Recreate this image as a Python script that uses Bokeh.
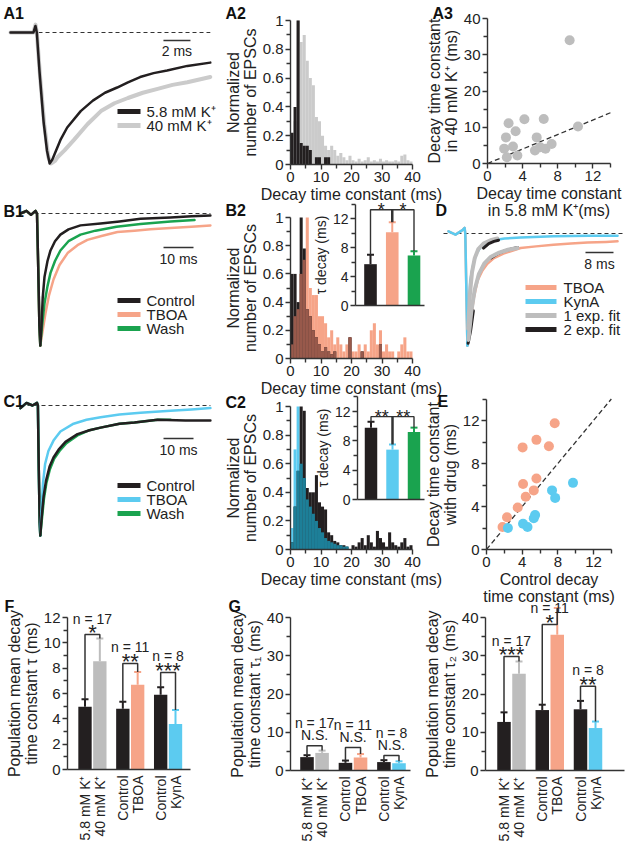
import math
from bokeh.plotting import figure
from bokeh.models import Range1d, FixedTicker, LinearAxis, Label
from bokeh.core.properties import value
from bokeh.embed import file_html
from bokeh.resources import INLINE

FONT = "Liberation Sans"
BLACK = "#231f20"
GRAY = "#cbcbcb"
BARGRAY = "#bdbdbd"
FITGRAY = "#bdbdbd"
SALMON = "#f6a488"
CYAN = "#5ccbf0"
GREEN = "#1aa34f"
BROWN = "#98594b"
TEAL = "#1d7f98"
AXC = "#333333"
TXC = "#222222"

# ---------------- data ----------------
# A1 traces (time ms, normalized amplitude)
a1_t_5p8 = [0, 1.7, 1.85, 1.95, 2.15, 2.45, 2.7, 2.9, 3.1, 3.7, 4.2, 5.2, 6.1, 7.0, 7.9, 8.7, 9.6, 10.6, 11.6, 13.1, 14.8]
a1_v_5p8 = [0, 0.0, 0.05, 0.0, -0.3, -0.68, -0.9, -1.0, -0.97, -0.82, -0.725, -0.6, -0.52, -0.46, -0.42, -0.38, -0.34, -0.31, -0.29, -0.255, -0.23]
a1_t_40 = [0, 1.7, 1.85, 1.95, 2.2, 2.5, 2.8, 3.0, 3.3, 3.5, 4.0, 4.7, 5.7, 6.7, 7.7, 8.7, 9.8, 10.9, 12.0, 13.1, 14.8]
a1_v_40 = [0, 0.0, 0.06, 0.0, -0.35, -0.7, -0.95, -1.0, -0.98, -0.95, -0.9, -0.82, -0.7, -0.6, -0.54, -0.5, -0.46, -0.43, -0.4, -0.38, -0.34]

# A2 histograms (1 ms bins, 0-40 ms)
hist_bins = list(range(40))
a2_5p8 = [0.22, 0.4, 1.0, 0.15, 0.13, 0.13, 0.1, 0.0, 0.05, 0.05, 0.0, 0.05, 0.05, 0, 0, 0, 0, 0, 0, 0,
          0, 0, 0, 0, 0, 0, 0, 0, 0, 0, 0, 0, 0, 0, 0, 0, 0, 0, 0, 0]
a2_40 = [0.05, 0.3, 1.0, 0.85, 0.9, 0.72, 0.6, 0.55, 0.33, 0.3, 0.2, 0.13, 0.1, 0.13, 0.1, 0.06, 0.08, 0.05, 0.03, 0.06,
         0.03, 0.02, 0.04, 0.02, 0.03, 0.05, 0.02, 0.03, 0.02, 0.04, 0.02, 0.03, 0.02, 0.02, 0.03, 0.02, 0.06, 0.07, 0.03, 0.02]

# A3 scatter
a3_5p8 = [9.35, 10.3, 2.4, 2.1, 1.9, 3.2, 4.2, 2.9, 2.2, 3.4, 6.4, 5.6, 5.4, 6.0, 6.6, 7.3]
a3_40 = [34.0, 10.2, 11.1, 7.2, 4.1, 8.9, 12.2, 4.7, 1.7, 2.2, 12.3, 7.2, 3.6, 4.5, 4.1, 5.4]

# B1 traces
b1_t_pre = [0, 2, 3.5, 5.0, 5.5, 5.9, 6.3, 6.6]
b1_v_pre = [0, 0.02, -0.01, 0.02, 0.0, -0.4, -0.85, -1.0]
b1_t_ctrl = [6.6, 7.0, 7.4, 8.0, 9.0, 10.0, 11.5, 13.3, 16, 20, 26.7, 33, 40, 50, 57, 63.3]
b1_v_ctrl = [-1.0, -0.85, -0.64, -0.48, -0.36, -0.28, -0.21, -0.16, -0.12, -0.09, -0.075, -0.06, -0.04, -0.03, -0.02, -0.015]
b1_t_tboa = [6.6, 7.3, 8.3, 9.5, 11, 13, 15.7, 19, 22.3, 27, 32.3, 38, 43.3, 50, 57, 63.3]
b1_v_tboa = [-1.0, -0.9, -0.76, -0.62, -0.5, -0.39, -0.3, -0.24, -0.2, -0.17, -0.14, -0.13, -0.12, -0.11, -0.1, -0.09]
b1_t_wash = [6.6, 7.2, 8.0, 9.0, 10, 11.5, 13.3, 16, 20, 25, 32, 40, 50, 58]
b1_v_wash = [-1.0, -0.85, -0.68, -0.55, -0.45, -0.36, -0.28, -0.21, -0.16, -0.13, -0.1, -0.08, -0.06, -0.05]

# B2 histograms + inset
b2_ctrl = [0.6, 0.6, 0.4, 1.0, 0.78, 0.35, 0.3, 0.2, 0.15, 0.1, 0.05, 0.08, 0.05, 0.03, 0.05, 0, 0, 0, 0, 0.15,
           0, 0, 0, 0.05, 0, 0, 0, 0, 0, 0.1, 0, 0, 0, 0, 0, 0, 0, 0, 0, 0]
b2_tboa = [0.1, 0.3, 0.35, 0.6, 0.7, 1.0, 0.5, 0.45, 0.45, 0.3, 0.3, 0.25, 0.15, 0.2, 0.1, 0.15, 0.1, 0.05, 0.1, 0.15,
           0.05, 0.05, 0.1, 0.05, 0.1, 0.05, 0.2, 0.25, 0.1, 0.2, 0.05, 0.1, 0.05, 0.05, 0, 0.05, 0.1, 0.15, 0.05, 0.05]
b2_in_mean = [5.7, 10.1, 6.9]
b2_in_err = [1.3, 1.4, 0.6]

# C1 traces
c1_t_pre = [0, 2, 4, 5.5, 5.8, 6.1, 6.4, 6.6]
c1_v_pre = [-0.02, 0.02, 0.0, 0.02, 0.0, -0.5, -0.9, -1.0]
c1_t_ctrl = [6.6, 7.1, 7.7, 8.5, 9.7, 11, 12.7, 15, 19, 23, 26.7, 33, 38, 45.7, 55, 63.3]
c1_v_ctrl = [-1.0, -0.85, -0.7, -0.58, -0.47, -0.4, -0.34, -0.28, -0.22, -0.19, -0.17, -0.14, -0.13, -0.11, -0.115, -0.115]
c1_t_tboa = [6.6, 7.0, 7.5, 8.2, 9.3, 11, 13.3, 17.7, 22, 26.7, 33, 40, 50, 57, 63.3]
c1_v_tboa = [-1.0, -0.8, -0.6, -0.45, -0.35, -0.27, -0.2, -0.14, -0.11, -0.09, -0.07, -0.055, -0.04, -0.03, -0.02]
c1_t_wash = [6.6, 7.15, 7.8, 8.6, 9.8, 11.2, 13, 15.3, 19, 23, 26.7, 33, 38, 45.7, 50]
c1_v_wash = [-1.0, -0.87, -0.72, -0.6, -0.49, -0.41, -0.35, -0.29, -0.23, -0.19, -0.17, -0.14, -0.13, -0.11, -0.11]

# C2 histograms + inset
c2_ctrl = [0.05, 0.3, 0.55, 1.0, 0.97, 0.43, 0.4, 0.4, 0.52, 0.33, 0.3, 0.28, 0.12, 0.1, 0.06, 0.05, 0.03, 0.03, 0.02, 0.0,
           0.03, 0.02, 0.05, 0.08, 0.03, 0.1, 0.05, 0.02, 0.13, 0.08, 0.05, 0.02, 0.12, 0.05, 0.03, 0.02, 0.05, 0.08, 0.02, 0.03]
c2_tboa = [0.15, 0.7, 1.0, 0.6, 0.5, 0.35, 0.3, 0.25, 0.2, 0.15, 0.12, 0.08, 0.06, 0.05, 0.04, 0.03, 0.03, 0.02, 0.02, 0.0,
           0, 0, 0, 0, 0, 0, 0, 0, 0, 0, 0, 0, 0, 0, 0, 0, 0, 0, 0, 0]
c2_in_mean = [9.8, 6.8, 9.2]
c2_in_err = [0.8, 0.7, 0.6]

# D traces
d_t_pre = [0, 2, 4, 4.6, 4.8, 5.1, 5.4]
d_v_pre = [0.02, -0.01, 0.03, 0.05, 0.0, -0.5, -1.0]
d_t_kyna = [5.4, 5.7, 6.2, 7.1, 8.0, 9.1, 11, 12.9, 16, 20.6, 30, 40, 48.3]
d_v_kyna = [-1.0, -0.7, -0.42, -0.27, -0.18, -0.125, -0.085, -0.06, -0.045, -0.035, -0.025, -0.02, -0.02]
d_t_tboa = [5.4, 5.8, 6.3, 7.2, 8.3, 9.7, 11.1, 13, 15.7, 20.6, 25, 30, 35, 39.7, 45, 48.3]
d_v_tboa = [-1.0, -0.92, -0.78, -0.58, -0.42, -0.33, -0.27, -0.22, -0.18, -0.13, -0.115, -0.1, -0.09, -0.08, -0.075, -0.07]
d_t_fit1a = [5.6, 6.1, 6.7, 7.5, 8.5, 10, 12, 14]
d_v_fit1a = [-0.85, -0.55, -0.35, -0.22, -0.14, -0.09, -0.06, -0.045]
d_t_fit1b = [5.7, 6.5, 7.5, 8.7, 10.2, 12, 14.5, 17, 19.7]
d_v_fit1b = [-0.95, -0.7, -0.5, -0.36, -0.27, -0.21, -0.17, -0.145, -0.13]
d_t_fit2a = [5.6, 6.3, 7.1]
d_v_fit2a = [-0.98, -0.87, -0.69]
d_t_fit2b = [12, 14, 16, 18, 19.7]
d_v_fit2b = [-0.22, -0.18, -0.155, -0.137, -0.125]
d_t_fit2c = [10, 11.5, 13, 14.3]
d_v_fit2c = [-0.13, -0.09, -0.07, -0.06]

# E scatter
e_ctrl_tboa = [7.65, 5.6, 4.05, 7.0, 4.1, 5.6, 5.3, 4.4, 3.5, 2.3, 1.8]
e_tboa = [11.75, 10.2, 9.5, 9.6, 6.1, 6.6, 5.5, 4.9, 3.9, 3.0, 2.1]
e_ctrl_kyna = [2.4, 4.1, 4.6, 5.3, 5.45, 7.35, 7.7, 9.7]
e_kyna = [2.0, 2.4, 2.1, 2.9, 3.2, 5.5, 4.8, 6.2]

# F / G bar summaries
bar_labels = ["5.8 mM K⁺", "40 mM K⁺", "Control", "TBOA", "Control", "KynA"]
bar_colors = [BLACK, BARGRAY, BLACK, SALMON, BLACK, CYAN]
n_labels = ["n = 17", "n = 11", "n = 8"]
f_mean = [4.95, 8.55, 4.8, 6.7, 5.9, 3.6]
f_err = [0.6, 1.8, 0.55, 1.0, 0.6, 1.1]
f_sig = ["*", "**", "***"]
f_bracket = [10.65, 8.37, 7.66]
g1_mean = [3.5, 4.6, 2.0, 3.4, 2.2, 1.9]
g1_err = [0.5, 0.6, 0.6, 0.9, 0.5, 0.5]
g1_sig = ["N.S.", "N.S.", "N.S."]
g1_bracket = [6.5, 6.0, 3.9]
g2_mean = [12.7, 25.3, 15.8, 35.5, 16.0, 11.1]
g2_err = [2.5, 3.2, 1.4, 7.0, 2.2, 1.7]
g2_sig = ["***", "*", "**"]
g2_bracket = [29.8, 38.2, 22.0]

GROUP_GAP = 2.55
bar_pos = [g * GROUP_GAP + k for g in range(3) for k in range(2)]
centers = [b + 0.5 for b in hist_bins]

# ---------------- one canvas, one scale pair per panel ----------------
W, H = 625, 850
OFF = 0  # the page template has no body margin

p = figure(width=W, height=H, x_range=Range1d(0, W), y_range=Range1d(H, 0),
           x_axis_location=None, y_axis_location=None,
           output_backend="svg", toolbar_location=None, min_border=0)
p.outline_line_color = None
p.xgrid.visible = False
p.ygrid.visible = False

XR, YR = {}, {}


def panel(name, xpx, xd, ypx, yd):
    (a0, a1), (d0, d1) = xpx, xd
    k = (d1 - d0) / (a1 - a0)
    XR[name] = Range1d(d0 - (a0 - OFF) * k, d0 + (W - (a0 - OFF)) * k)
    (b0, b1), (e0, e1) = ypx, yd
    k = (e1 - e0) / (b1 - b0)
    YR[name] = Range1d(e0 + (H - (b0 - OFF)) * k, e0 - (b0 - OFF) * k)


panel("A1", (10, 37), (0, 2), (32, 163), (0, -1))
panel("A2", (290, 412), (0, 40), (164, 20), (0, 1))
panel("A3", (487, 610), (0, 14), (163, 18), (0, 40))
panel("B1", (20, 50), (0, 10), (213, 345), (0, -1))
panel("B2", (290, 412), (0, 40), (358, 217), (0, 1))
panel("B2i", (370, 391.75), (0, 1), (305, 218), (0, 12))
panel("D", (448, 476), (0, 8), (233, 345), (0, -1))
panel("C1", (20, 50), (0, 10), (405, 535), (0, -1))
panel("C2", (290, 412), (0, 40), (549, 406), (0, 1))
panel("C2i", (370.5, 392), (0, 1), (499, 411), (0, 12))
panel("E", (486, 593), (0, 12), (549, 420), (0, 12))
panel("F", (84.5, 175), (0, bar_pos[-1]), (769, 617), (0, 12))
panel("G1", (306.5, 398.5), (0, bar_pos[-1]), (770, 617), (0, 40))
panel("G2", (503.5, 595), (0, bar_pos[-1]), (770, 617), (0, 40))
p.extra_x_ranges = XR
p.extra_y_ranges = YR


def R(name):
    return dict(x_range_name=name, y_range_name=name)


def to_data(name, px, py):
    xr, yr = XR[name], YR[name]
    x = xr.start + (px - OFF) * (xr.end - xr.start) / W
    y = yr.end + (py - OFF) * (yr.start - yr.end) / H
    return x, y


def style(ax, fs="15px", lfs="16px"):
    ax.axis_line_color = AXC
    ax.axis_line_width = 1.4
    ax.major_tick_line_color = AXC
    ax.major_tick_line_width = 1.4
    ax.major_tick_out = 5
    ax.major_tick_in = 0
    ax.minor_tick_line_color = AXC
    ax.minor_tick_line_width = 1.4
    ax.minor_tick_out = 4
    ax.minor_tick_in = 0
    ax.major_label_text_font = FONT
    ax.major_label_text_font_size = fs
    ax.major_label_text_color = TXC
    ax.axis_label_text_font = FONT
    ax.axis_label_text_font_size = lfs
    ax.axis_label_text_font_style = "normal"
    ax.axis_label_text_color = TXC
    ax.axis_label_text_line_height = 1.0
    ax.major_label_standoff = 2
    ax.axis_label_standoff = 1


def axis(name, dim, loc, bounds, ticks, minor=(), label=None, fs="15px", lfs="16px", overrides=None):
    ax = LinearAxis(x_range_name=name, y_range_name=name, fixed_location=loc, bounds=bounds,
                    ticker=FixedTicker(ticks=list(ticks), minor_ticks=list(minor)))
    style(ax, fs, lfs)
    if label is not None:
        ax.axis_label = label
    if overrides:
        ax.major_label_overrides = overrides
    p.add_layout(ax, "below" if dim == "x" else "left")
    return ax


def plabel(text, px, py):
    p.add_layout(Label(x=px - OFF, y=py - OFF, text=text, text_font=FONT, text_font_size="16px",
                       text_font_style="bold", text_baseline="top", text_align="left", text_color="#111111"))


def txt(xs, ys, texts, size="14px", align="center", baseline="alphabetic", yoff=0, **kw):
    p.text(x=xs, y=ys, text=texts, text_font=value(FONT), text_font_size=value(size),
           text_align=align, text_baseline=baseline, y_offset=yoff, text_color=TXC, **kw)


def legend(entries, x0, x1, ys, tx):
    for (lab, col), y in zip(entries, ys):
        p.segment(x0=[x0 - OFF], y0=[y - OFF], x1=[x1 - OFF], y1=[y - OFF], line_color=col, line_width=5)
        txt([tx - OFF], [y - OFF], [lab], size="15px", align="left", baseline="middle")


def trace(name, t, v, color, width):
    p.line(t, v, line_color=color, line_width=width, line_join="round", line_cap="round", **R(name))


def baseline(name, t0, t1):
    p.line([t0, t1], [0, 0], line_color=AXC, line_dash="4 3", line_width=1.2, **R(name))


def scalebar(name, t0, length, amp, label):
    p.line([t0, t0 + length], [amp, amp], line_color=AXC, line_width=1.5, **R(name))
    txt([t0 + length / 2], [amp], [label], size="14px", baseline="top", yoff=3, **R(name))


def hist_axes(name):
    axis(name, "x", 0, (0, 40), [0, 10, 20, 30, 40], [5, 15, 25, 35], "Decay time constant (ms)")
    axis(name, "y", 0, (0, 1), [0, 0.2, 0.4, 0.6, 0.8, 1.0], [0.1, 0.3, 0.5, 0.7, 0.9],
         "Normalized\nnumber of EPSCs",
         overrides={0: "0", 0.2: "0.2", 0.4: "0.4", 0.6: "0.6", 0.8: "0.8", 1.0: "1"})


def hist(name, back, front, back_col, front_col, ov_col=None):
    p.vbar(x=centers, top=back, width=1.0, fill_color=back_col, line_color=None, **R(name))
    p.vbar(x=centers, top=front, width=1.0, fill_color=front_col, line_color=None, **R(name))
    if ov_col is not None:
        ov = [min(a, b) for a, b in zip(back, front)]
        p.vbar(x=centers, top=ov, width=1.0, fill_color=ov_col, line_color=None, **R(name))


def inset(name, means, errs, cols, Hb, star, x_left, x_right):
    xs = [0, 1, 2]
    tops = [m + e for m, e in zip(means, errs)]
    p.vbar(x=xs, top=means, width=0.58, fill_color=cols, line_color=None, **R(name))
    p.segment(x0=xs, y0=means, x1=xs, y1=tops, line_color=cols, line_width=2, **R(name))
    p.scatter(x=xs, y=tops, marker="dash", size=7, line_color=cols, line_width=2, **R(name))
    p.multi_line(xs=[[0, 0, 2, 2], [1, 1]], ys=[[tops[0], Hb, Hb, tops[2]], [Hb, tops[1]]],
                 line_color=AXC, line_width=[1.4, 2.5], **R(name))
    txt([0.5, 1.5], [Hb, Hb], [star, star], size="18px", yoff=0, **R(name))
    axis(name, "y", x_left, (0, 14), [0, 4, 8, 12], [2, 6, 10, 14], "τ decay (ms)", fs="14px", lfs="14px")
    ax = axis(name, "x", 0, (x_left, x_right), [], [])
    ax.major_tick_out = 0
    ax.minor_tick_out = 0


def bar_panel(name, means, errs, sig, brackets, ylabel, ticks, minor, ymax, x_left, x_right,
              sig_size, sig_off, n_off):
    xs = bar_pos
    tops = [m + e for m, e in zip(means, errs)]
    p.vbar(x=xs, top=means, width=0.9, fill_color=bar_colors, line_color=None, **R(name))
    p.segment(x0=xs, y0=means, x1=xs, y1=tops, line_color=bar_colors, line_width=2, **R(name))
    p.scatter(x=xs, y=tops, marker="dash", size=7, line_color=bar_colors, line_width=2, **R(name))
    bx, by, mx = [], [], []
    for g in range(3):
        i, j = 2 * g, 2 * g + 1
        bx.append([xs[i], xs[i], xs[j], xs[j]])
        by.append([tops[i], brackets[g], brackets[g], tops[j]])
        mx.append((xs[i] + xs[j]) / 2)
    p.multi_line(xs=bx, ys=by, line_color=AXC, line_width=1.5, **R(name))
    txt(mx, brackets, sig, size=sig_size, yoff=sig_off, **R(name))
    txt(mx, brackets, n_labels, size="14px", yoff=n_off, **R(name))
    ax = axis(name, "x", 0, (x_left, x_right), xs, [], fs="14px",
              overrides={xs[k]: bar_labels[k] for k in range(6)})
    ax.major_label_orientation = math.pi / 2
    ax.major_tick_out = 0
    ax.major_label_standoff = 6
    axis(name, "y", x_left, (0, ymax), ticks, minor, ylabel)


# ---------------- A1 ----------------
baseline("A1", 0, 14.8)
trace("A1", a1_t_40, a1_v_40, GRAY, 4)
trace("A1", a1_t_5p8, a1_v_5p8, BLACK, 2.5)
scalebar("A1", 11.33, 2, -0.061, "2 ms")
legend([("5.8 mM K⁺", BLACK), ("40 mM K⁺", GRAY)], 117, 140, [111, 125], 146)
plabel("A1", 3, 4)

# ---------------- A2 ----------------
hist("A2", a2_40, a2_5p8, GRAY, BLACK)
hist_axes("A2")
plabel("A2", 225, 4)

# ---------------- A3 ----------------
p.line([0, 14], [0, 14], line_color=AXC, line_dash="5 3", line_width=1.3, **R("A3"))
p.scatter(a3_5p8, a3_40, size=10, fill_color=BARGRAY, line_color=None, **R("A3"))
axis("A3", "x", 0, (0, 14), [0, 4, 8, 12], [2, 6, 10, 14], "Decay time constant\nin 5.8 mM K⁺(ms)")
axis("A3", "y", 0, (0, 40), [0, 10, 20, 30, 40], [5, 15, 25, 35], "Decay time constant\nin 40 mM K⁺ (ms)")
plabel("A3", 432, 4)

# ---------------- B1 ----------------
baseline("B1", 0, 63.3)
for col in (SALMON, GREEN, BLACK):
    trace("B1", b1_t_pre, b1_v_pre, col, 2.5)
trace("B1", b1_t_tboa, b1_v_tboa, SALMON, 2.5)
trace("B1", b1_t_wash, b1_v_wash, GREEN, 2.5)
trace("B1", b1_t_ctrl, b1_v_ctrl, BLACK, 2.5)
scalebar("B1", 47.67, 10, -0.258, "10 ms")
legend([("Control", BLACK), ("TBOA", SALMON), ("Wash", GREEN)], 117, 140, [300, 314, 328], 146)
plabel("B1", 3, 202)

# ---------------- B2 ----------------
hist("B2", b2_tboa, b2_ctrl, SALMON, BLACK, BROWN)
hist_axes("B2")
inset("B2i", b2_in_mean, b2_in_err, [BLACK, SALMON, GREEN], 13.2, "*",
      to_data("B2i", 355, 0)[0], to_data("B2i", 424, 0)[0])
plabel("B2", 225, 201)

# ---------------- D ----------------
baseline("D", -1.43, 50.0)
trace("D", d_t_pre, d_v_pre, SALMON, 2.5)
trace("D", d_t_tboa, d_v_tboa, SALMON, 2.5)
trace("D", d_t_pre, d_v_pre, CYAN, 2.5)
trace("D", d_t_kyna, d_v_kyna, CYAN, 2.5)
trace("D", d_t_fit2a, d_v_fit2a, BLACK, 3)
trace("D", d_t_fit2b, d_v_fit2b, BLACK, 3)
trace("D", d_t_fit1a, d_v_fit1a, FITGRAY, 4)
trace("D", d_t_fit1b, d_v_fit1b, FITGRAY, 4)
trace("D", d_t_fit2c, d_v_fit2c, BLACK, 3)
scalebar("D", 39.14, 8, -0.17, "8 ms")
legend([("TBOA", SALMON), ("KynA", CYAN), ("1 exp. fit", FITGRAY), ("2 exp. fit", BLACK)],
       525, 556, [287, 301, 315, 329], 563)
plabel("D", 435, 201)

# ---------------- C1 ----------------
baseline("C1", 0, 63.3)
for col in (CYAN, GREEN, BLACK):
    trace("C1", c1_t_pre, c1_v_pre, col, 2.5)
trace("C1", c1_t_tboa, c1_v_tboa, CYAN, 2.5)
trace("C1", c1_t_wash, c1_v_wash, GREEN, 2.5)
trace("C1", c1_t_ctrl, c1_v_ctrl, BLACK, 2.5)
scalebar("C1", 47.67, 10, -0.254, "10 ms")
legend([("Control", BLACK), ("TBOA", CYAN), ("Wash", GREEN)], 117, 140, [485, 499, 513], 146)
plabel("C1", 3, 392)

# ---------------- C2 ----------------
hist("C2", c2_tboa, c2_ctrl, CYAN, BLACK, TEAL)
hist_axes("C2")
inset("C2i", c2_in_mean, c2_in_err, [BLACK, CYAN, GREEN], 11.3, "**",
      to_data("C2i", 357, 0)[0], to_data("C2i", 424, 0)[0])
plabel("C2", 225, 393)

# ---------------- E ----------------
p.line([0, 14], [0, 14], line_color=AXC, line_dash="5 3", line_width=1.3, **R("E"))
p.scatter(e_ctrl_tboa, e_tboa, size=10, fill_color=SALMON, line_color=None, **R("E"))
p.scatter(e_ctrl_kyna, e_kyna, size=10, fill_color=CYAN, line_color=None, **R("E"))
axis("E", "x", 0, (0, 14), [0, 4, 8, 12], [2, 6, 10, 14], "Control decay\ntime constant (ms)")
axis("E", "y", 0, (0, 14), [0, 4, 8, 12], [2, 6, 10, 14], "Decay time constant\nwith drug (ms)")
plabel("E", 437, 392)

# ---------------- F / G ----------------
bar_panel("F", f_mean, f_err, f_sig, f_bracket, "Population mean decay\ntime constant τ (ms)",
          [0, 2, 4, 6, 8, 10, 12], [1, 3, 5, 7, 9, 11], 12,
          to_data("F", 67, 0)[0], to_data("F", 190, 0)[0], "22px", -2, -16)
plabel("F", 4, 597)

bar_panel("G1", g1_mean, g1_err, g1_sig, g1_bracket, "Population mean decay\ntime constant τ₁ (ms)",
          [0, 10, 20, 30, 40], [5, 15, 25, 35], 40,
          to_data("G1", 290, 0)[0], to_data("G1", 410, 0)[0], "14px", -11, -23)
plabel("G", 228, 597)

bar_panel("G2", g2_mean, g2_err, g2_sig, g2_bracket, "Population mean decay\ntime constant τ₂ (ms)",
          [0, 10, 20, 30, 40], [5, 15, 25, 35], 40,
          to_data("G2", 485, 0)[0], to_data("G2", 624, 0)[0], "22px", -2, -16)

open("out.html", "w").write(file_html(p, INLINE))
